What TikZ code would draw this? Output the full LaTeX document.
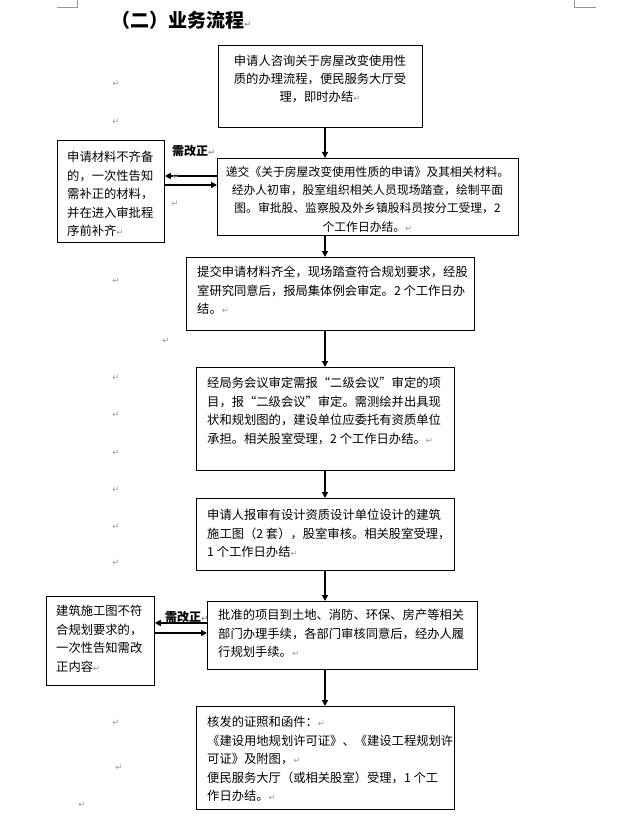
\documentclass[tikz,border=0pt]{standalone}
\usepackage{fontspec}
\setmainfont{Noto Sans CJK SC}
\newfontfamily\dvfont{DejaVu Sans}
\usetikzlibrary{arrows.meta,calc}
\definecolor{pmgray}{RGB}{150,150,150}
\newcommand{\pmk}{{\dvfont\fontsize{8.5}{8.5}\selectfont\textcolor{pmgray}{↵}}}
\begin{document}
\begin{tikzpicture}[x=1pt,y=-1pt,
  box/.style={draw, line width=0.8pt, inner sep=0pt, anchor=north west},
  txt/.style={inner sep=0pt, anchor=north west, align=left, font=\fontsize{12.3}{18.5}\selectfont},
  flow/.style={line width=1.6pt, -{Triangle[length=6pt,width=6pt]}},
  pm/.style={inner sep=0pt, text=pmgray, font=\dvfont\fontsize{8.5}{8.5}\selectfont},
  lab/.style={inner sep=0pt, anchor=west, font=\fontsize{12}{12}\selectfont\bfseries},
  crop/.style={draw=pmgray, line width=0.6pt}]
\useasboundingbox (0,0) rectangle (631,821);
% crop marks
\draw[crop] (57,7) -- (77,7) -- (77,0);
\draw[crop] (574,0) -- (574,7) -- (596,7);
% title
\node[inner sep=0pt, anchor=west, font=\fontsize{19}{19}\selectfont\bfseries] (title) at (111,20) {（二）业务流程\pmk};
% boxes
\node[box, minimum width=204pt, minimum height=82pt] (b1) at (218,45) {};
\node[box, minimum width=301pt, minimum height=77pt] (b2) at (217,158) {};
\node[box, minimum width=288pt, minimum height=73pt] (b3) at (186,257) {};
\node[box, minimum width=258pt, minimum height=103pt] (b4) at (196,367) {};
\node[box, minimum width=258pt, minimum height=72pt] (b5) at (196,498) {};
\node[box, minimum width=270pt, minimum height=68pt] (b6) at (207,601) {};
\node[box, minimum width=258pt, minimum height=103pt] (b7) at (196,706) {};
\node[box, minimum width=107pt, minimum height=102pt] (l1) at (57,140) {};
\node[box, minimum width=108pt, minimum height=89pt] (l2) at (46,596) {};
% texts
\node[txt, anchor=north, align=center, font=\fontsize{12.3}{18}\selectfont] (t1) at (320,55) {申请人咨询关于房屋改变使用性\\质的办理流程，便民服务大厅受\\理，即时办结\pmk};
\node[txt, anchor=north, align=center, font=\fontsize{11.8}{18.3}\selectfont] (t2) at (367.5,166) {递交《关于房屋改变使用性质的申请》及其相关材料。\\经办人初审，股室组织相关人员现场踏查，绘制平面\\图。审批股、监察股及外乡镇股科员按分工受理，2\\个工作日办结。\pmk};
\node[txt] (t3) at (197,266) {提交申请材料齐全，现场踏查符合规划要求，经股\\室研究同意后，报局集体例会审定。2 个工作日办\\结。\pmk};
\node[txt] (t4) at (207,377) {经局务会议审定需报“二级会议”审定的项\\目，报“二级会议”审定。需测绘并出具现\\状和规划图的，建设单位应委托有资质单位\\承担。相关股室受理，2 个工作日办结。\pmk};
\node[txt] (t5) at (207,509) {申请人报审有设计资质设计单位设计的建筑\\施工图（2 套），股室审核。相关股室受理，\\1 个工作日办结\pmk};
\node[txt] (t6) at (218,609) {批准的项目到土地、消防、环保、房产等相关\\部门办理手续，各部门审核同意后，经办人履\\行规划手续。\pmk};
\node[txt] (t7) at (207,716) {核发的证照和函件：\pmk\\《建设用地规划许可证》、《建设工程规划许\\可证》及附图，\pmk\\便民服务大厅（或相关股室）受理，1 个工\\作日办结。\pmk};
\node[txt] (tl1) at (67,151) {申请材料不齐备\\的，一次性告知\\需补正的材料，\\并在进入审批程\\序前补齐\pmk};
\node[txt] (tl2) at (56,605) {建筑施工图不符\\合规划要求的，\\一次性告知需改\\正内容\pmk};
% arrow helpers
\coordinate (ax) at (325,0);
\coordinate (ya1) at (0,176);
\coordinate (ya2) at (0,185);
\coordinate (yb1) at (0,623);
\coordinate (yb2) at (0,633);
% main flow
\draw[flow] (b1.south -| ax) -- (b2.north -| ax);
\draw[flow] (b2.south -| ax) -- (b3.north -| ax);
\draw[flow] (b3.south -| ax) -- (b4.north -| ax);
\draw[flow] (b4.south -| ax) -- (b5.north -| ax);
\draw[flow] (b5.south -| ax) -- (b6.north -| ax);
\draw[flow] (b6.south -| ax) -- (b7.north -| ax);
% side loops
\draw[flow] (b2.west |- ya1) -- (l1.east |- ya1);
\draw[flow] (l1.east |- ya2) -- (b2.west |- ya2);
\draw[flow] (b6.west |- yb1) -- (l2.east |- yb1);
\draw[flow] (l2.east |- yb2) -- (b6.west |- yb2);
\node[lab] (lab1) at (172,151) {需改正\pmk};
\node[lab] (lab2) at (165,617) {需改正\pmk};
% paragraph marks
\node[pm] (p1) at (116,84) {↵};
\node[pm] (p2) at (116,122) {↵};
\node[pm] (p3) at (176,177) {↵};
\node[pm] (p4) at (175,204) {↵};
\node[pm] (p5) at (116,281) {↵};
\node[pm] (p6) at (166,341) {↵};
\node[pm] (p7) at (116,378) {↵};
\node[pm] (p8) at (116,415) {↵};
\node[pm] (p9) at (116,453) {↵};
\node[pm] (p10) at (116,490) {↵};
\node[pm] (p11) at (116,527) {↵};
\node[pm] (p12) at (116,563) {↵};
\node[pm] (p13) at (116,723) {↵};
\node[pm] (p14) at (119,768) {↵};
\node[pm] (p15) at (82,805) {↵};
\end{tikzpicture}
\end{document}
